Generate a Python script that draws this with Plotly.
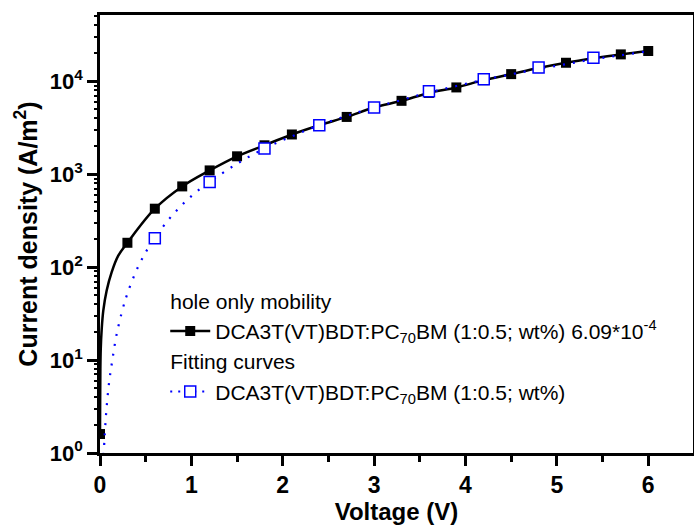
import plotly.graph_objects as go

# Measured hole-only J-V (markers every 0.3 V)
v_meas = [0.0, 0.3, 0.6, 0.9, 1.2, 1.5, 1.8, 2.1, 2.4, 2.7, 3.0, 3.3, 3.6, 3.9, 4.2, 4.5, 4.8, 5.1, 5.4, 5.7, 6.0]
j_meas = [1.6, 183, 426, 740, 1100, 1560, 2050, 2680, 3370, 4140, 5230, 6170, 7500, 8600, 10300, 11960, 13900, 15850, 17700, 19500, 21200]

# Measured curve, dense part near the origin plus marker points
v_line = [0.0, 0.002, 0.004, 0.008, 0.018, 0.036, 0.073, 0.127, 0.2, 0.3, 0.6, 0.9, 1.2, 1.5, 1.8, 2.1, 2.4, 2.7, 3.0, 3.3, 3.6, 3.9, 4.2, 4.5, 4.8, 5.1, 5.4, 5.7, 6.0]
j_line = [1.6, 4, 8, 13, 21, 34, 56, 88, 133, 183, 426, 740, 1100, 1560, 2050, 2680, 3370, 4140, 5230, 6170, 7500, 8600, 10300, 11960, 13900, 15850, 17700, 19500, 21200]

# Fitting curve
v_fit = [0.04, 0.05, 0.07, 0.1, 0.135, 0.18, 0.25, 0.3, 0.4, 0.5, 0.6, 0.75, 0.9, 1.05, 1.2, 1.5, 1.8, 2.1, 2.4, 2.7, 3.0, 3.3, 3.6, 3.9, 4.2, 4.5, 4.8, 5.1, 5.4, 5.7, 6.0]
j_fit = [0.95, 1.46, 2.9, 5.8, 10, 18.5, 36, 52, 93, 145, 205, 325, 470, 640, 824, 1300, 1890, 2560, 3370, 4250, 5230, 6300, 7600, 8900, 10400, 11900, 13600, 15300, 17300, 19100, 21100]

# Fitting-curve markers
v_fitmark = [0.6, 1.2, 1.8, 2.4, 3.0, 3.6, 4.2, 4.8, 5.4]
j_fitmark = [205, 824, 1890, 3370, 5230, 7840, 10560, 14130, 17900]

x_ticks = [0, 1, 2, 3, 4, 5, 6]
y_ticks = [1, 10, 100, 1000, 10000]
y_ticktext = ["10<sup>0</sup>", "10<sup>1</sup>", "10<sup>2</sup>", "10<sup>3</sup>", "10<sup>4</sup>"]
y_minor = [m * d for d in [1, 10, 100, 1000, 10000] for m in range(2, 10)]

group1_title = "hole only mobility"
group2_title = "Fitting curves"
name1 = "DCA3T(VT)BDT:PC<sub>70</sub>BM (1:0.5; wt%) 6.09*10<sup>-4</sup>"
name2 = "DCA3T(VT)BDT:PC<sub>70</sub>BM (1:0.5; wt%)"

BLUE = "#0000ff"
FONT = "Liberation Sans, Arial, sans-serif"
LEGSIZE = 21

fig = go.Figure()
fig.add_trace(go.Scatter(x=v_line, y=j_line, mode="lines",
                         line=dict(color="black", width=2.5, shape="spline"),
                         showlegend=False, hoverinfo="skip"))
fig.add_trace(go.Scatter(x=v_meas, y=j_meas, mode="markers",
                         marker=dict(symbol="square", size=10, color="black"),
                         showlegend=False))
fig.add_trace(go.Scatter(x=v_fit, y=j_fit, mode="lines",
                         line=dict(color=BLUE, width=2.2, dash="2px,8px", shape="spline"),
                         showlegend=False, hoverinfo="skip"))
fig.add_trace(go.Scatter(x=v_fitmark, y=j_fitmark, mode="markers",
                         marker=dict(symbol="square", size=11, color="white",
                                     line=dict(color=BLUE, width=1.5)),
                         showlegend=False))

# legend entries
fig.add_trace(go.Scatter(x=[None], y=[None], mode="lines+markers", name=name1,
                         legendgroup="g1",
                         legendgrouptitle=dict(text=group1_title, font=dict(family=FONT, size=LEGSIZE, color="black")),
                         line=dict(color="black", width=2.5),
                         marker=dict(symbol="square", size=10, color="black")))
fig.add_trace(go.Scatter(x=[None], y=[None], mode="lines+markers", name=name2,
                         legendgroup="g2",
                         legendgrouptitle=dict(text=group2_title, font=dict(family=FONT, size=LEGSIZE, color="black")),
                         line=dict(color=BLUE, width=2.2, dash="2px,6px"),
                         marker=dict(symbol="square", size=11, color="white",
                                     line=dict(color=BLUE, width=1.5))))

# invisible trace on overlay axis to carry minor y ticks
fig.add_trace(go.Scatter(x=[None], y=[None], yaxis="y2", showlegend=False, hoverinfo="skip"))

fig.update_layout(
    width=694, height=530,
    margin=dict(l=100, r=1, t=15, b=77),
    plot_bgcolor="white", paper_bgcolor="white",
    font=dict(family=FONT, color="black"),
    legend=dict(x=0.11, y=0.394, xanchor="left", yanchor="top",
                bgcolor="rgba(0,0,0,0)", font=dict(family=FONT, size=LEGSIZE, color="black"),
                traceorder="grouped", tracegroupgap=0, itemwidth=40),
    xaxis=dict(range=[0, 6.49], tickvals=x_ticks, ticktext=[str(t) for t in x_ticks],
               ticks="outside", ticklen=10, tickwidth=2.5, tickcolor="black",
               showline=True, linecolor="black", linewidth=2.5, mirror=True,
               showgrid=False, zeroline=False, automargin=False,
               minor=dict(dtick=0.5, ticks="outside", ticklen=6, tickwidth=2.5, tickcolor="black", showgrid=False),
               tickfont=dict(family=FONT, size=23, weight="bold"),
               title=dict(text="Voltage (V)", standoff=4,
                          font=dict(family=FONT, size=24, weight="bold"))),
    yaxis=dict(type="log", range=[0, 4.714], tickvals=y_ticks, ticktext=y_ticktext,
               ticks="outside", ticklen=10, tickwidth=2.5, tickcolor="black",
               showline=True, linecolor="black", linewidth=2.5, mirror=True,
               showgrid=False, zeroline=False, automargin=False,
               tickfont=dict(family=FONT, size=22, weight="bold"),
               title=dict(text="Current density (A/m<sup>2</sup>)", standoff=6,
                          font=dict(family=FONT, size=25, weight="bold"))),
    yaxis2=dict(type="log", range=[0, 4.714], overlaying="y", side="left",
                tickvals=y_minor, ticks="outside", ticklen=5, tickwidth=2, tickcolor="black",
                showticklabels=False, showgrid=False, zeroline=False, showline=False,
                automargin=False),
)

fig.write_html("out.html", config={"displayModeBar": False},
               post_script="document.body.style.margin='0';")
